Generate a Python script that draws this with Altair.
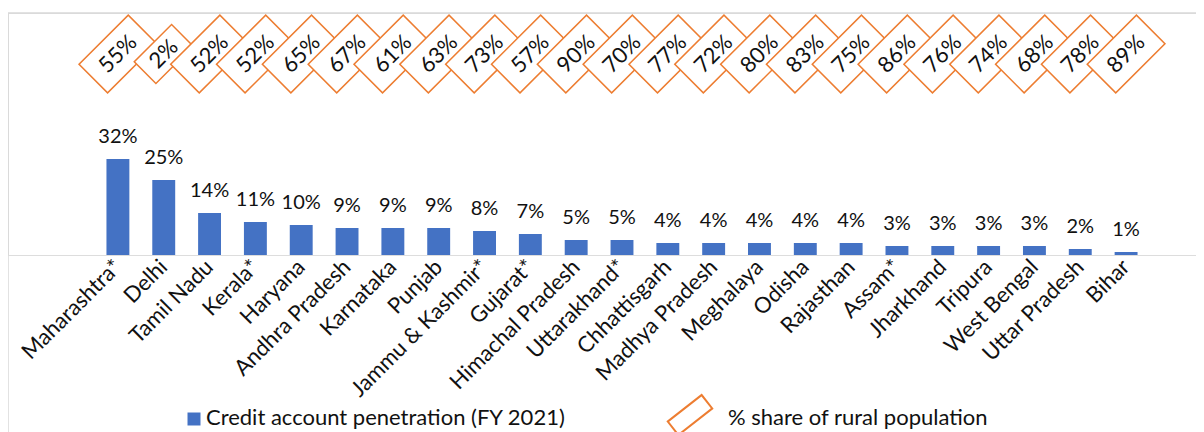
import altair as alt
import pandas as pd

states = ["Maharashtra*", "Delhi", "Tamil Nadu", "Kerala*", "Haryana", "Andhra Pradesh",
          "Karnataka", "Punjab", "Jammu & Kashmir*", "Gujarat*", "Himachal Pradesh",
          "Uttarakhand*", "Chhattisgarh", "Madhya Pradesh", "Meghalaya", "Odisha",
          "Rajasthan", "Assam*", "Jharkhand", "Tripura", "West Bengal", "Uttar Pradesh", "Bihar"]
credit_pct = [32, 25, 14, 11, 10, 9, 9, 9, 8, 7, 5, 5, 4, 4, 4, 4, 4, 3, 3, 3, 3, 2, 1]
rural_pct = [55, 2, 52, 52, 65, 67, 61, 63, 73, 57, 90, 70, 77, 72, 80, 83, 75, 86, 76, 74, 68, 78, 89]

series_names = ["Credit account penetration (FY 2021)", "% share of rural population"]

BLUE = "#4472C4"
ORANGE = "#ED7D31"
FONT = "Lato"
TXT = "#111111"

df = pd.DataFrame({"state": states, "credit": credit_pct, "rural": rural_pct})

xenc = alt.X("state:N", sort=states, title=None,
             scale=alt.Scale(range=[87, 1141], paddingInner=0.5, paddingOuter=0.25),
             axis=alt.Axis(labelAngle=-45, labelAlign="right", labelBaseline="middle",
                           labelFontSize=22, labelFont=FONT, labelColor=TXT,
                           labelPadding=8, domain=False, ticks=False, grid=False,
                           labelOverlap=False, labelLimit=300))
yscale = alt.Scale(domain=[0, 242 / 3])

base = alt.Chart(df)

bars = base.mark_bar(color=BLUE).encode(
    x=xenc,
    y=alt.Y("credit:Q", scale=yscale, axis=None),
)

bar_labels = base.mark_text(fontSize=20, font=FONT, color=TXT, baseline="alphabetic", dy=-16).encode(
    x=alt.X("state:N", sort=states),
    y=alt.Y("credit:Q", scale=yscale),
    text=alt.Text("label:N"),
).transform_calculate(label="datum.credit + '%'")

box_path = "M-1,-0.58L1,-0.58L1,0.58L-1,0.58Z"

boxes = base.mark_point(shape=box_path, filled=True, fill="white", stroke=ORANGE,
                        strokeWidth=1.5, opacity=1, angle=315).encode(
    x=alt.X("state:N", sort=states),
    y=alt.value(41),
    size=alt.Size("boxsize:Q", scale=None, legend=None),
).transform_calculate(
    boxsize="pow(1.2 * (14 * length(datum.rural + '%') + 16), 2)",
)

box_text = base.mark_text(fontSize=22, font=FONT, color=TXT, angle=315,
                          align="center", baseline="middle").encode(
    x=alt.X("state:N", sort=states),
    y=alt.value(41),
    text=alt.Text("rlabel:N"),
).transform_calculate(rlabel="datum.rural + '%'")

# frame lines (chart area border)
frame_top = alt.Chart(pd.DataFrame({"a": [0]})).mark_rule(color="#d9d9d9", strokeWidth=1.5).encode(
    x=alt.value(0), x2=alt.value(1188), y=alt.value(0))
frame_left = alt.Chart(pd.DataFrame({"a": [0]})).mark_rule(color="#d9d9d9", strokeWidth=1.5).encode(
    x=alt.value(0), y=alt.value(0), y2=alt.value(424))

# legend
leg_df = pd.DataFrame({"name": series_names})
leg_sq = alt.Chart(leg_df).transform_filter(alt.datum.name == series_names[0]).mark_square(
    color=BLUE, size=169, opacity=1).encode(x=alt.value(186), y=alt.value(406))
leg_t1 = alt.Chart(leg_df).transform_filter(alt.datum.name == series_names[0]).mark_text(
    fontSize=22, font=FONT, color=TXT, align="left", baseline="middle").encode(
    x=alt.value(198), y=alt.value(405), text="name:N")
leg_box = alt.Chart(leg_df).transform_filter(alt.datum.name == series_names[1]).mark_point(
    shape="M-1,-0.4L1,-0.4L1,0.4L-1,0.4Z", filled=True, fill="white", stroke=ORANGE,
    strokeWidth=2, opacity=1, size=1849, angle=322).encode(x=alt.value(682), y=alt.value(402))
leg_t2 = alt.Chart(leg_df).transform_filter(alt.datum.name == series_names[1]).mark_text(
    fontSize=22, font=FONT, color=TXT, align="left", baseline="middle").encode(
    x=alt.value(720), y=alt.value(405), text="name:N")

chart = alt.layer(frame_top, frame_left, bars, bar_labels, boxes, box_text,
                  leg_sq, leg_t1, leg_box, leg_t2).properties(
    width=1188, height=242,
    autosize=alt.AutoSizeParams(type="none"),
    padding={"left": 0, "top": 5, "right": 0, "bottom": 177},
).configure_view(stroke=None).configure(background="white")

chart.save("out.html", embed_options={"renderer": "svg", "actions": False})
